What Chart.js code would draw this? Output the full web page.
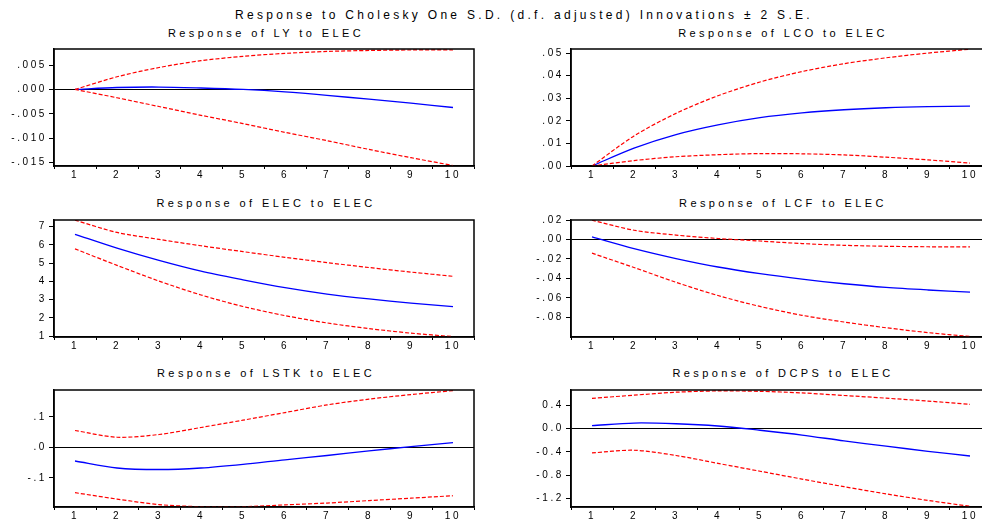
<!DOCTYPE html>
<html><head><meta charset="utf-8">
<script src="https://cdn.jsdelivr.net/npm/chart.js@4.4.0/dist/chart.umd.min.js"></script>
<style>
html,body{margin:0;padding:0;width:982px;height:521px;overflow:hidden;background:#fff;position:relative;}
canvas.c{position:absolute;}
.t{position:absolute;white-space:nowrap;font-family:"Liberation Sans",Arial,sans-serif;color:#000;transform:translate(-50%,-50%);}
.sub{font-size:11px;letter-spacing:3.4px;}
</style></head><body>
<div class="t" style="left:524px;top:15px;font-size:12px;letter-spacing:3.3px">Response to Cholesky One S.D. (d.f. adjusted) Innovations ± 2 S.E.</div>
<div class="t sub" style="left:266px;top:33px">Response of LY to ELEC</div>
<div class="t sub" style="left:783px;top:33px">Response of LCO to ELEC</div>
<div class="t sub" style="left:266px;top:203px">Response of ELEC to ELEC</div>
<div class="t sub" style="left:783px;top:203px">Response of LCF to ELEC</div>
<div class="t sub" style="left:266px;top:373px">Response of LSTK to ELEC</div>
<div class="t sub" style="left:783px;top:373px">Response of DCPS to ELEC</div>

<canvas class="c" id="p1" width="476" height="147" style="left:0px;top:41px"></canvas>
<canvas class="c" id="p2" width="476" height="147" style="left:517px;top:41px"></canvas>
<canvas class="c" id="p3" width="476" height="147" style="left:0px;top:212px"></canvas>
<canvas class="c" id="p4" width="476" height="147" style="left:517px;top:212px"></canvas>
<canvas class="c" id="p5" width="476" height="147" style="left:0px;top:382px"></canvas>
<canvas class="c" id="p6" width="476" height="147" style="left:517px;top:382px"></canvas>
<script>
const categories = ['1','2','3','4','5','6','7','8','9','10'];

const lyResp  = [0, 0.0004, 0.0005, 0.0003, 0.0000, -0.0005, -0.0012, -0.0020, -0.0028, -0.0037];
const lyUpper = [0, 0.0026, 0.0045, 0.0059, 0.0068, 0.0074, 0.0078, 0.0080, 0.0081, 0.0081];
const lyLower = [0, -0.0017, -0.0035, -0.0053, -0.0070, -0.0088, -0.0105, -0.0123, -0.0140, -0.0156];
const lyTicks = [-0.015, -0.010, -0.005, 0, 0.005];
const lyTickLabels = ['-.015', '-.010', '-.005', '.000', '.005'];
const lyMin = -0.0157, lyMax = 0.0083;

const lcoResp  = [0, 0.0079, 0.0139, 0.0182, 0.0214, 0.0235, 0.0249, 0.0258, 0.0263, 0.0265];
const lcoUpper = [0, 0.0133, 0.0233, 0.0311, 0.0372, 0.0418, 0.0453, 0.0479, 0.0500, 0.0517];
const lcoLower = [0, 0.0024, 0.0041, 0.0050, 0.0055, 0.0054, 0.0049, 0.0039, 0.0027, 0.0013];
const lcoTicks = [0, 0.01, 0.02, 0.03, 0.04, 0.05];
const lcoTickLabels = ['.00', '.01', '.02', '.03', '.04', '.05'];
const lcoMin = 0, lcoMax = 0.0518;

const elecResp  = [6.58, 5.82, 5.15, 4.56, 4.09, 3.66, 3.31, 3.04, 2.81, 2.62];
const elecUpper = [7.35, 6.68, 6.30, 5.95, 5.63, 5.32, 5.03, 4.76, 4.51, 4.28];
const elecLower = [5.78, 4.88, 4.02, 3.26, 2.63, 2.13, 1.73, 1.42, 1.17, 0.98];
const elecTicks = [1, 2, 3, 4, 5, 6, 7];
const elecTickLabels = ['1', '2', '3', '4', '5', '6', '7'];
const elecMin = 0.96, elecMax = 7.36;

const lcfResp  = [0.0026, -0.0094, -0.0196, -0.0283, -0.0352, -0.0408, -0.0455, -0.0493, -0.0519, -0.0540];
const lcfUpper = [0.0198, 0.0095, 0.0045, 0.0010, -0.0016, -0.0042, -0.0060, -0.0070, -0.0075, -0.0076];
const lcfLower = [-0.0141, -0.0288, -0.0440, -0.0576, -0.0688, -0.0779, -0.0848, -0.0907, -0.0957, -0.0997];
const lcfTicks = [-0.08, -0.06, -0.04, -0.02, 0, 0.02];
const lcfTickLabels = ['-.08', '-.06', '-.04', '-.02', '.00', '.02'];
const lcfMin = -0.1002, lcfMax = 0.0200;

const lstkResp  = [-0.045, -0.068, -0.073, -0.068, -0.056, -0.041, -0.027, -0.012, 0.002, 0.015];
const lstkUpper = [0.055, 0.033, 0.042, 0.065, 0.089, 0.114, 0.139, 0.158, 0.173, 0.186];
const lstkLower = [-0.149, -0.170, -0.188, -0.195, -0.195, -0.189, -0.183, -0.175, -0.167, -0.159];
const lstkTicks = [-0.1, 0, 0.1];
const lstkTickLabels = ['-.1', '.0', '.1'];
const lstkMin = -0.196, lstkMax = 0.188;

const dcpsResp  = [0.050, 0.096, 0.084, 0.045, -0.028, -0.110, -0.210, -0.300, -0.390, -0.470];
const dcpsUpper = [0.520, 0.574, 0.625, 0.647, 0.640, 0.613, 0.569, 0.523, 0.473, 0.417];
const dcpsLower = [-0.417, -0.371, -0.461, -0.596, -0.731, -0.866, -0.996, -1.120, -1.232, -1.333];
const dcpsTicks = [-1.2, -0.8, -0.4, 0, 0.4];
const dcpsTickLabels = ['-1.2', '-0.8', '-0.4', '0.0', '0.4'];
const dcpsMin = -1.345, dcpsMax = 0.663;

const FONT = '"Liberation Sans", Arial, sans-serif';
const spacing = {
  id: 'spacing',
  beforeLayout(chart) { chart.ctx.letterSpacing = '2.6px'; },
  beforeDraw(chart) { chart.ctx.letterSpacing = '2.6px'; }
};
const frame = {
  id: 'frame',
  afterDatasetsDraw(chart) {
    const a = chart.chartArea, c = chart.ctx;
    c.save();
    c.strokeStyle = '#000';
    c.lineWidth = 1.5;
    c.strokeRect(a.left, a.top, a.right - a.left, a.bottom - a.top);
    c.restore();
  }
};

function makePanel(id, resp, upper, lower, ticks, tickLabels, yMin, yMax) {
  const red = { borderColor: '#ff0000', borderWidth: 1.2, borderDash: [4, 2], pointRadius: 0, tension: 0.3, fill: false };
  new Chart(document.getElementById(id), {
    type: 'line',
    data: {
      labels: categories,
      datasets: [
        Object.assign({ label: 'upper', data: upper }, red),
        Object.assign({ label: 'lower', data: lower }, red),
        { label: 'response', data: resp, borderColor: '#0000ff', borderWidth: 1.3, pointRadius: 0, tension: 0.3, fill: false }
      ]
    },
    options: {
      responsive: false,
      animation: false,
      events: [],
      layout: { padding: { top: 6, right: 2, left: 0, bottom: 0 } },
      plugins: { legend: { display: false }, tooltip: { enabled: false }, title: { display: false } },
      scales: {
        x: {
          type: 'category',
          offset: true,
          grid: { offset: true, drawOnChartArea: false, drawTicks: true, tickLength: 3, color: '#000', tickColor: '#000' },
          border: { display: true, color: '#000', width: 1.5 },
          ticks: { color: '#000', font: { family: FONT, size: 10 }, padding: 0, maxRotation: 0, autoSkip: false },
          afterFit(s) { s.height = 22; }
        },
        y: {
          min: yMin, max: yMax,
          afterBuildTicks(s) { s.ticks = ticks.map(v => ({ value: v })); },
          grid: {
            drawOnChartArea: true, drawTicks: true, tickLength: 5,
            color: (ctx) => (ctx.tick && ctx.tick.value === 0) ? '#000' : 'rgba(0,0,0,0)',
            tickColor: '#000', lineWidth: 1
          },
          border: { display: true, color: '#000', width: 1.5 },
          ticks: { color: '#000', font: { family: FONT, size: 10 }, padding: 2, callback: (v, i) => tickLabels[i] },
          afterFit(s) { s.width = 54; }
        }
      }
    },
    plugins: [spacing, frame]
  });
}

makePanel('p1', lyResp, lyUpper, lyLower, lyTicks, lyTickLabels, lyMin, lyMax);
makePanel('p2', lcoResp, lcoUpper, lcoLower, lcoTicks, lcoTickLabels, lcoMin, lcoMax);
makePanel('p3', elecResp, elecUpper, elecLower, elecTicks, elecTickLabels, elecMin, elecMax);
makePanel('p4', lcfResp, lcfUpper, lcfLower, lcfTicks, lcfTickLabels, lcfMin, lcfMax);
makePanel('p5', lstkResp, lstkUpper, lstkLower, lstkTicks, lstkTickLabels, lstkMin, lstkMax);
makePanel('p6', dcpsResp, dcpsUpper, dcpsLower, dcpsTicks, dcpsTickLabels, dcpsMin, dcpsMax);
</script>
</body></html>
